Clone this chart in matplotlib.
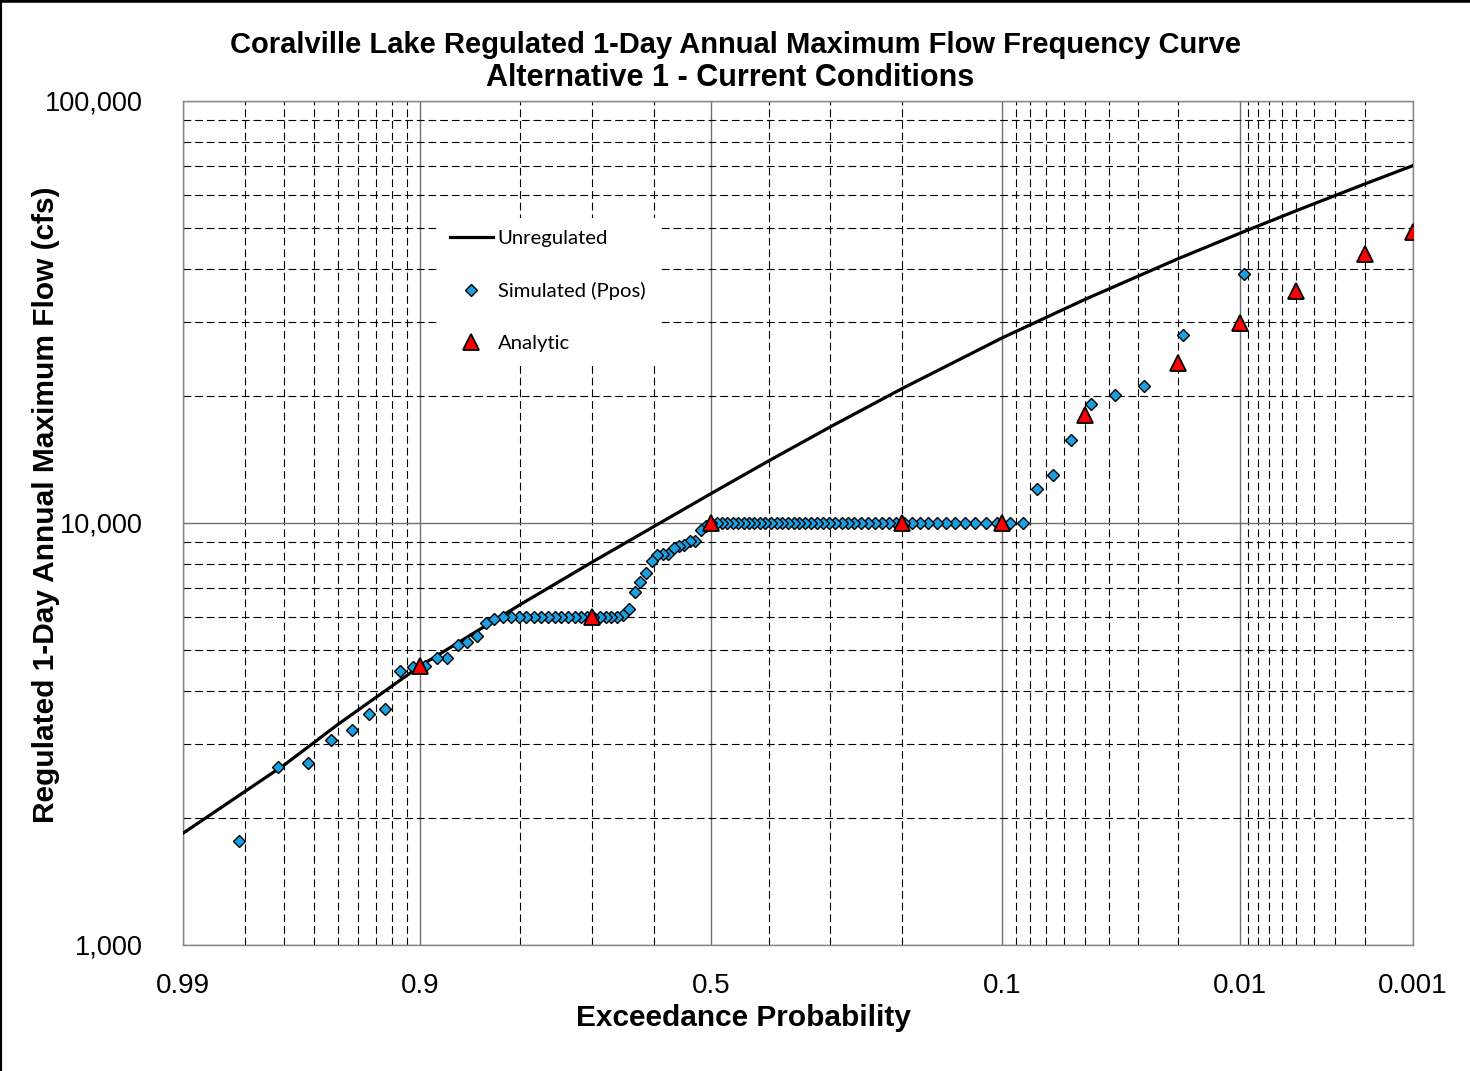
import numpy as np
import matplotlib
matplotlib.use("Agg")
import matplotlib.pyplot as plt
from matplotlib.ticker import NullFormatter
from matplotlib.lines import Line2D
from statistics import NormalDist

# axis ticks
prob_major = [0.99, 0.9, 0.5, 0.1, 0.01, 0.001]
prob_major_labels = ["0.99", "0.9", "0.5", "0.1", "0.01", "0.001"]
prob_minor = [0.98, 0.97, 0.96, 0.95, 0.94, 0.93, 0.92, 0.91,
              0.8, 0.7, 0.6, 0.4, 0.3, 0.2,
              0.09, 0.08, 0.07, 0.06, 0.05, 0.04, 0.03, 0.02,
              0.009, 0.008, 0.007, 0.006, 0.005, 0.004, 0.003, 0.002]
flow_major = [1000, 10000, 100000]
flow_major_labels = ["1,000", "10,000", "100,000"]
flow_minor = [2000, 3000, 4000, 5000, 6000, 7000, 8000, 9000,
              20000, 30000, 40000, 50000, 60000, 70000, 80000, 90000]

# unregulated frequency curve
unreg_prob = [0.99, 0.97, 0.95, 0.9, 0.8, 0.7, 0.6, 0.5, 0.4, 0.3, 0.2,
              0.1, 0.05, 0.02, 0.01, 0.005, 0.002, 0.001]
unreg_flow = [1840, 2670, 3330, 4585, 6406, 8080, 9806, 11750, 14040, 16900, 20840,
              27470, 33860, 42250, 48560, 54950, 63600, 70300]

# analytic regulated curve
analytic_prob = [0.9, 0.7, 0.5, 0.2, 0.1, 0.05, 0.02, 0.01, 0.005, 0.002, 0.001]
analytic_flow = [4590, 6000, 10000, 10000, 10000, 18030, 23990, 29730, 35520, 43320, 49000]

# simulated annual maxima, largest first (rank 105 plots left of 0.99, off the chart)
n_years = 105
sim_flow = [
    38900, 27850, 21150, 20110, 19110, 15730, 12990, 12040,
    10000, 10000, 10000, 10000, 10000, 10000, 10000, 10000, 10000, 10000,
    10000, 10000, 10000, 10000, 10000, 10000, 10000, 10000, 10000, 10000,
    10000, 10000, 10000, 10000, 10000, 10000, 10000, 10000, 10000, 10000,
    10000, 10000, 10000, 10000, 10000, 10000, 10000, 10000, 10000, 10000,
    10000, 10000, 10000, 10000, 10000,
    9840, 9620, 9050, 9050, 8860, 8820, 8740, 8430, 8430, 8400, 8130, 7630,
    7260, 6870, 6260, 6060,
    6000, 6000, 6000, 6000, 6000, 6000, 6000, 6000, 6000, 6000, 6000, 6000,
    6000, 6000, 6000, 6000, 6000, 6000,
    5910, 5780, 5400, 5220, 5140, 4800, 4800, 4590, 4550, 4470, 3620, 3520,
    3230, 3060, 2700, 2640, 1760,
]
sim_rank = np.arange(1, len(sim_flow) + 1)
sim_prob = sim_rank / (n_years + 1)   # Weibull plotting position

norm = NormalDist()
_ppf = np.vectorize(norm.inv_cdf, otypes=[float])
_cdf = np.vectorize(norm.cdf, otypes=[float])


def fwd(p):
    p = np.clip(np.asarray(p, dtype=float), 1e-9, 1 - 1e-9)
    return _ppf(p)


def inv(z):
    return _cdf(np.asarray(z, dtype=float))


plt.rcParams["font.family"] = ["Liberation Sans", "DejaVu Sans"]

W, H = 1470, 1071
fig = plt.figure(figsize=(W / 100, H / 100), dpi=100)
ax = fig.add_axes([183 / W, 1 - 945 / H, (1413 - 183) / W, (945 - 101) / H])

ax.set_xscale("function", functions=(fwd, inv))
ax.set_yscale("log")
ax.set_xlim(0.99, 0.001)
ax.set_ylim(1000, 100000)

ax.set_xticks(prob_major, prob_major_labels)
ax.set_xticks(prob_minor, minor=True)
ax.xaxis.set_minor_formatter(NullFormatter())
ax.set_yticks(flow_major, flow_major_labels)
ax.set_yticks(flow_minor, minor=True)
ax.yaxis.set_minor_formatter(NullFormatter())

ax.tick_params(which="both", length=0)
ax.tick_params(axis="x", pad=20, labelsize=20)
ax.tick_params(axis="y", pad=29, labelsize=19.5)

ax.set_axisbelow(True)
ax.grid(which="major", color="#6f6f6f", lw=1.0, ls="-")
ax.grid(which="minor", color="black", lw=0.8, ls=(0, (7, 3.5)))
for s in ax.spines.values():
    s.set_color("#868686")
    s.set_linewidth(1.0)

ax.plot(unreg_prob, unreg_flow, color="black", lw=2.3, label="Unregulated", zorder=3)
ax.plot(sim_prob, sim_flow, ls="none", marker="D", ms=6.3, mfc="#1BA1E2", mec="black",
        mew=1.0, label="Simulated (Ppos)", zorder=4)
ax.plot(analytic_prob, analytic_flow, ls="none", marker="^", ms=11, mfc="#FF0000",
        mec="black", mew=1.3, label="Analytic", zorder=5)

ax.legend(loc="upper left", bbox_to_anchor=(438 / W, 1 - 218 / H),
          bbox_transform=fig.transFigure, borderaxespad=0, frameon=True,
          fancybox=False, edgecolor="none", facecolor="white", framealpha=1,
          prop={"family": "Lato", "size": 14.6}, labelspacing=1.72,
          handlelength=2.1, handletextpad=0.25, borderpad=0.6)

fig.text(0.5, 1 - 45 / H, "Coralville Lake Regulated 1-Day Annual Maximum Flow Frequency Curve",
         ha="center", va="center", fontsize=21, fontweight="bold")
fig.text(0.497, 1 - 78 / H, "Alternative 1 - Current Conditions",
         ha="center", va="center", fontsize=22, fontweight="bold")
fig.text(743 / W, 1 - 1018 / H, "Exceedance Probability",
         ha="center", va="center", fontsize=21.5, fontweight="bold")
fig.text(46 / W, 1 - 505 / H, "Regulated 1-Day Annual Maximum Flow (cfs)",
         ha="center", va="center", rotation=90, fontsize=21.5, fontweight="bold")

# page border (top and left edges only are visible in the original)
fig.add_artist(Line2D([0, 1], [1, 1], transform=fig.transFigure, color="black", lw=4))
fig.add_artist(Line2D([0, 0], [0, 1], transform=fig.transFigure, color="black", lw=3))

fig.savefig("out.png", dpi=100)
